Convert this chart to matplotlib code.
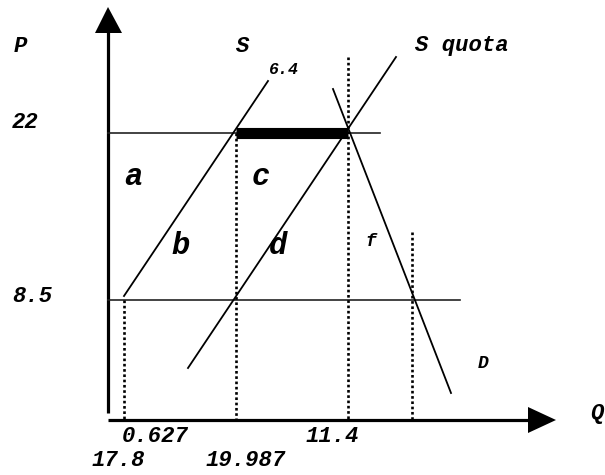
import matplotlib
matplotlib.use("Agg")
import matplotlib.pyplot as plt

# ---------------------------------------------------------------------------
# Diagram geometry (in picture units: x to the right, y downwards)
# ---------------------------------------------------------------------------
axis_x = 108          # vertical P axis
axis_y = 420          # horizontal Q axis
p_axis_top = 30
q_axis_end = 530

# price levels (22 and 8.5) and where their lines stop
p_levels = [133, 300]
p_level_ends = [380, 460]

# quota segment on the 22 line
quota_seg_x = [236, 348]

# dotted guides: quantity position and top end
guide_x = [124, 236, 348, 412]
guide_top = [300, 133, 57, 232]

# curves
supply_x = [124, 268]
supply_y = [296, 81]
quota_x = [188, 396]
quota_y = [368, 57]
demand_x = [333, 451]
demand_y = [89, 393]

# text labels: (text, x, y, size)
labels = [
    ("P", 20, 46, 16),
    ("S", 243, 46, 16),
    ("6.4", 284, 69, 12),
    ("S quota", 462, 45, 16),
    ("22", 25, 122, 16),
    ("8.5", 32, 297, 16),
    ("a", 133, 177, 22),
    ("c", 261, 177, 22),
    ("b", 181, 246, 22),
    ("d", 278, 246, 22),
    ("f", 371, 242, 13),
    ("D", 483, 363, 13),
    ("Q", 597, 413, 16),
    ("0.627", 155, 437, 16),
    ("11.4", 332, 437, 16),
    ("17.8", 118, 460, 16),
    ("19.987", 246, 460, 16),
]

INK = "black"
FONT = ["Liberation Mono", "DejaVu Sans Mono"]

fig = plt.figure(figsize=(6.05, 4.75), dpi=100)
ax = fig.add_axes([0, 0, 1, 1])
ax.set_xlim(0, 605)
ax.set_ylim(475, 0)
ax.axis("off")

# axes with arrow heads
ax.plot([axis_x, axis_x], [413, p_axis_top], color=INK, lw=2.3, solid_capstyle="butt")
ax.plot([axis_x, q_axis_end], [axis_y, axis_y], color=INK, lw=2.3, solid_capstyle="butt")
ax.fill([axis_x - 13, axis_x, axis_x + 14], [33, 7, 33], color=INK, lw=0)
ax.fill([528, 556, 528], [407, 420, 433], color=INK, lw=0)

# price lines
for p, end in zip(p_levels, p_level_ends):
    ax.plot([axis_x, end], [p, p], color="#222222", lw=1.2)

# thick quota segment at P = 22
ax.plot(quota_seg_x, [p_levels[0]] * 2, color=INK, lw=8, solid_capstyle="butt")

# dotted guides
for gx, top in zip(guide_x, guide_top):
    ax.plot([gx, gx], [top, axis_y], color=INK, lw=1.9,
            linestyle=(0, (1, 1)), solid_capstyle="butt")

# supply, supply with quota, demand
for xs, ys in [(supply_x, supply_y), (quota_x, quota_y), (demand_x, demand_y)]:
    ax.plot(xs, ys, color=INK, lw=1.3)

for txt, x, y, size in labels:
    ax.text(x, y, txt, ha="center", va="center", fontsize=size,
            family=FONT, weight="bold", style="italic", color=INK)

fig.savefig("out.png", dpi=100)
